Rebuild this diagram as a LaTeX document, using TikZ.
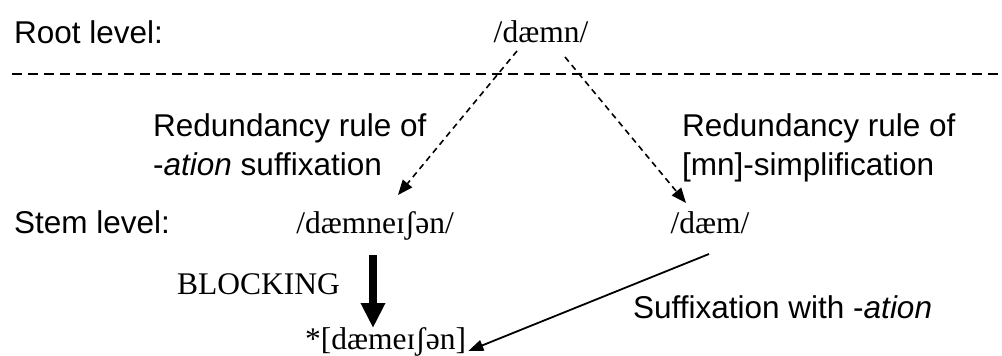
\documentclass[tikz,border=0pt]{standalone}
\usepackage{fontspec}
\setmainfont{Liberation Serif}
\newfontfamily\labelsans{Liberation Sans}
\usetikzlibrary{arrows.meta}
\tikzset{
  sanslabel/.style={font=\labelsans\fontsize{31.5}{39}\selectfont, inner sep=0pt, anchor=base west, align=left},
  ipa/.style={font=\fontsize{31.5}{38}\selectfont, inner sep=0pt},
  levelline/.style={line width=2pt, dash pattern=on 10pt off 6pt},
  rulearrow/.style={line width=1.6pt, dash pattern=on 6pt off 4.5pt, -{Triangle[length=15pt,width=12pt]}},
  blockarrow/.style={line width=8pt, -{Triangle[length=25pt,width=23pt]}},
  sufarrow/.style={line width=1.8pt, -{Triangle[length=15pt,width=11pt]}}
}
\begin{document}
\begin{tikzpicture}[x=1pt,y=-1pt]
\useasboundingbox (0,0) rectangle (1002,356);
% texts
\node[sanslabel] (rootlbl) at (14,43) {Root level:};
\node[ipa, anchor=base] (root) at (541,42) {/dæmn/};
\node[sanslabel] (leftrule) at (153,175) {Redundancy rule of\\-\textit{ation} suffixation};
\node[sanslabel] (rightrule) at (682,175) {Redundancy rule of\\{}[mn]-simplification};
\node[sanslabel] (stemlbl) at (14,233) {Stem level:};
\node[ipa, anchor=base] (stem1) at (375,233) {/dæmneɪʃən/};
\node[ipa, anchor=base] (stem2) at (710,233) {/dæm/};
\node[ipa, anchor=base west] (blocking) at (177,294) {BLOCKING};
\node[ipa, anchor=base west] (out) at (305,349) {*[dæmeɪʃən]};
\node[sanslabel] (suflbl) at (633,318) {Suffixation with -\textit{ation}};
% level line
\coordinate (lineL) at (12,74);
\coordinate (lineR) at (1002,74);
\draw[levelline] (lineL) -- (lineR);
% coordinates
\coordinate (rootL) at (517,51);
\coordinate (rootR) at (565,57);
\coordinate (tipL) at (398,195);
\coordinate (tipR) at (686,203);
\coordinate (blkS) at (373,255);
\coordinate (blkE) at (373,328);
\coordinate (sufS) at (709,254);
\coordinate (sufE) at ([xshift=2pt,yshift=-2pt]out.base east);
% arrows
\draw[rulearrow] (rootL) -- (tipL);
\draw[rulearrow] (rootR) -- (tipR);
\draw[blockarrow] (blkS) -- (blkE);
\draw[sufarrow] (sufS) -- (sufE);
\end{tikzpicture}
\end{document}
